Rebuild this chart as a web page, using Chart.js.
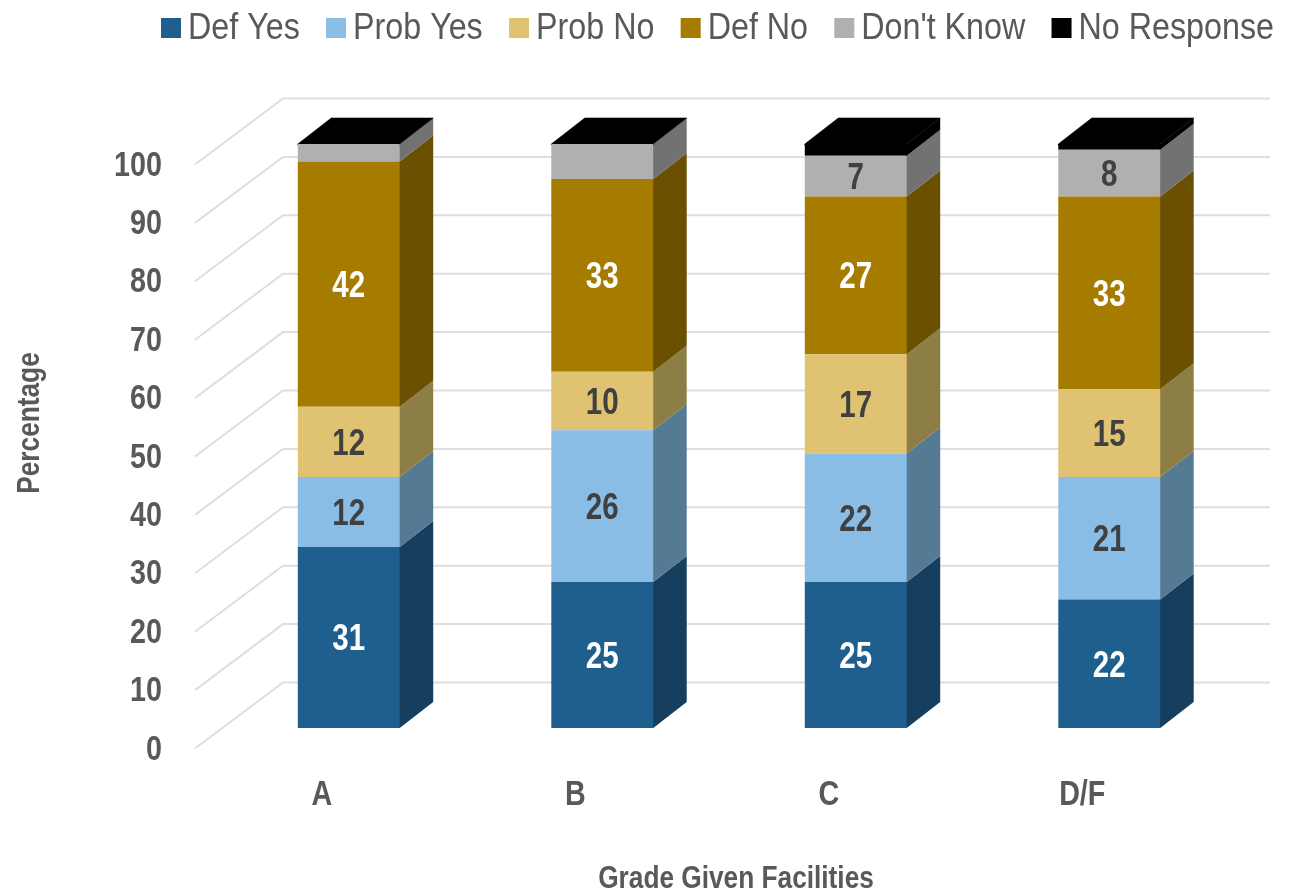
<!DOCTYPE html>
<html>
<head>
<meta charset="utf-8">
<title>Grade Given Facilities</title>
<script src="https://cdn.jsdelivr.net/npm/chart.js@4/dist/chart.umd.js"></script>
<style>
    html, body { margin: 0; padding: 0; background: #fff; }
    canvas { display: block; }
</style>
</head>
<body>
<canvas id="chart-bar-1" width="1298" height="894"></canvas>
<script>
'use strict';
var grades = ['A', 'B', 'C', 'D/F'];
var defYes = [31, 25, 25, 22];
var probYes = [12, 26, 22, 21];
var probNo = [12, 10, 17, 15];
var defNo = [42, 33, 27, 33];
var dontKnow = [3, 6, 7, 8];
var noResponse = [0, 0, 2, 1];

var fontName = '"Liberation Sans", sans-serif';
var depthX = 33.5, depthY = -26;
var narrow = 0.82, legendNarrow = 0.86;

function seriesSet(label, data, color, side, labelColor, minLabel) {
    return {
        label: label,
        data: data,
        backgroundColor: color,
        sideColor: side,
        labelColor: labelColor,
        minLabel: minLabel,
        borderWidth: 0,
        stack: 's'
    };
}

// no narrow font on the box, fillText's maxWidth squeezes the text instead
function narrowText(ctx, text, x, y, factor) {
    ctx.fillText(text, x, y, ctx.measureText(text).width * (factor || narrow));
}

var bars3d = {
    id: 'bars3d',
    // back wall and floor lines, then the side and top faces behind the fronts
    beforeDatasetsDraw: function(chart) {
        var ctx = chart.ctx, y = chart.scales.y;
        ctx.save();
        ctx.strokeStyle = '#dedede';
        ctx.lineWidth = 2;
        y.ticks.forEach(function(t) {
            var p = y.getPixelForValue(t.value);
            ctx.beginPath();
            ctx.moveTo(195, p + 20.5);
            ctx.lineTo(283, p - 45.5);
            ctx.lineTo(1270, p - 45.5);
            ctx.stroke();
        });
        chart.data.datasets.forEach(function(ds, i) {
            chart.getDatasetMeta(i).data.forEach(function(bar) {
                var r = bar.x + bar.width / 2;
                if (bar.base - bar.y <= 0) return;
                ctx.fillStyle = ds.sideColor;
                ctx.beginPath();
                ctx.moveTo(r - 1, bar.y);
                ctx.lineTo(r, bar.y);
                ctx.lineTo(r + depthX, bar.y + depthY);
                ctx.lineTo(r + depthX, bar.base + depthY);
                ctx.lineTo(r, bar.base);
                ctx.lineTo(r - 1, bar.base);
                ctx.closePath();
                ctx.fill();
            });
        });
        var last = chart.data.datasets.length - 1;
        ctx.fillStyle = chart.data.datasets[last].backgroundColor;
        ctx.strokeStyle = ctx.fillStyle;
        ctx.lineWidth = 0.6;
        chart.getDatasetMeta(last).data.forEach(function(bar) {
            var l = bar.x - bar.width / 2, r = bar.x + bar.width / 2;
            ctx.beginPath();
            ctx.moveTo(l, bar.y + 1);
            ctx.lineTo(l, bar.y);
            ctx.lineTo(l + depthX, bar.y + depthY);
            ctx.lineTo(r + depthX, bar.y + depthY);
            ctx.lineTo(r, bar.y);
            ctx.lineTo(r, bar.y + 1);
            ctx.closePath();
            ctx.fill();
            ctx.stroke();
        });
        ctx.restore();
    },
    // value labels
    afterDatasetsDraw: function(chart) {
        var ctx = chart.ctx;
        ctx.save();
        ctx.font = 'bold 36px ' + fontName;
        ctx.textAlign = 'center';
        ctx.textBaseline = 'middle';
        chart.data.datasets.forEach(function(ds, i) {
            chart.getDatasetMeta(i).data.forEach(function(bar, j) {
                var v = ds.data[j];
                if (v < ds.minLabel) return;
                ctx.fillStyle = ds.labelColor;
                narrowText(ctx, String(v), bar.x, (bar.y + bar.base) / 2 + 3);
            });
        });
        ctx.restore();
    }
};

// tick labels, legend row and axis titles
var chartText = {
    id: 'chartText',
    afterDraw: function(chart) {
        var ctx = chart.ctx, x = 161;
        var xs = chart.scales.x, ys = chart.scales.y;
        ctx.save();
        ctx.textBaseline = 'middle';
        ctx.fillStyle = '#595959';
        ctx.font = 'bold 35px ' + fontName;
        ctx.textAlign = 'right';
        ys.ticks.forEach(function(t) {
            narrowText(ctx, t.label, 162, ys.getPixelForValue(t.value) + 22);
        });
        ctx.textAlign = 'center';
        grades.forEach(function(g, i) {
            narrowText(ctx, g, xs.getPixelForTick(i) - 27, 795);
        });
        ctx.font = '37.5px ' + fontName;
        ctx.textAlign = 'left';
        chart.data.datasets.forEach(function(ds) {
            ctx.fillStyle = ds.backgroundColor;
            ctx.fillRect(x, 18, 20, 20);
            ctx.fillStyle = '#595959';
            narrowText(ctx, ds.label, x + 27, 28.5, legendNarrow);
            x += 27 + ctx.measureText(ds.label).width * legendNarrow + 26.3;
        });
        ctx.font = 'bold 32px ' + fontName;
        ctx.textAlign = 'center';
        narrowText(ctx, 'Grade Given Facilities', 736, 879);
        ctx.translate(30, 423);
        ctx.rotate(-Math.PI / 2);
        narrowText(ctx, 'Percentage', 0, 0);
        ctx.restore();
    }
};

var bar = document.getElementById('chart-bar-1').getContext('2d');
var myBarChart = new Chart(bar, {
    type: 'bar',
    data: {
        labels: grades,
        datasets: [
            seriesSet('Def Yes', defYes, '#1f5f8e', '#163e5e', '#ffffff', 1),
            seriesSet('Prob Yes', probYes, '#8abde6', '#557a94', '#404040', 1),
            seriesSet('Prob No', probNo, '#dfc372', '#8c7e45', '#404040', 1),
            seriesSet('Def No', defNo, '#a67c00', '#6a5000', '#ffffff', 1),
            seriesSet("Don't Know", dontKnow, '#b0b0b0', '#727272', '#404040', 7),
            seriesSet('No Response', noResponse, '#000000', '#000000', '#ffffff', 100)
        ]
    },
    options: {
        responsive: false,
        animation: false,
        layout: { padding: { top: 144, right: 62, bottom: 0, left: 0 } },
        datasets: { bar: { categoryPercentage: 1, barPercentage: 0.402 } },
        plugins: { legend: { display: false }, tooltip: { enabled: false } },
        scales: {
            x: {
                stacked: true,
                grid: { display: false, drawTicks: false },
                border: { display: false },
                afterFit: function(s) { s.height = 166; },
                ticks: { display: false }
            },
            y: {
                stacked: true,
                min: 0,
                max: 100,
                grid: { display: false, drawTicks: false },
                border: { display: false },
                afterFit: function(s) { s.width = 222; },
                ticks: { display: false, stepSize: 10 }
            }
        }
    },
    plugins: [bars3d, chartText]
});
</script>
</body>
</html>
